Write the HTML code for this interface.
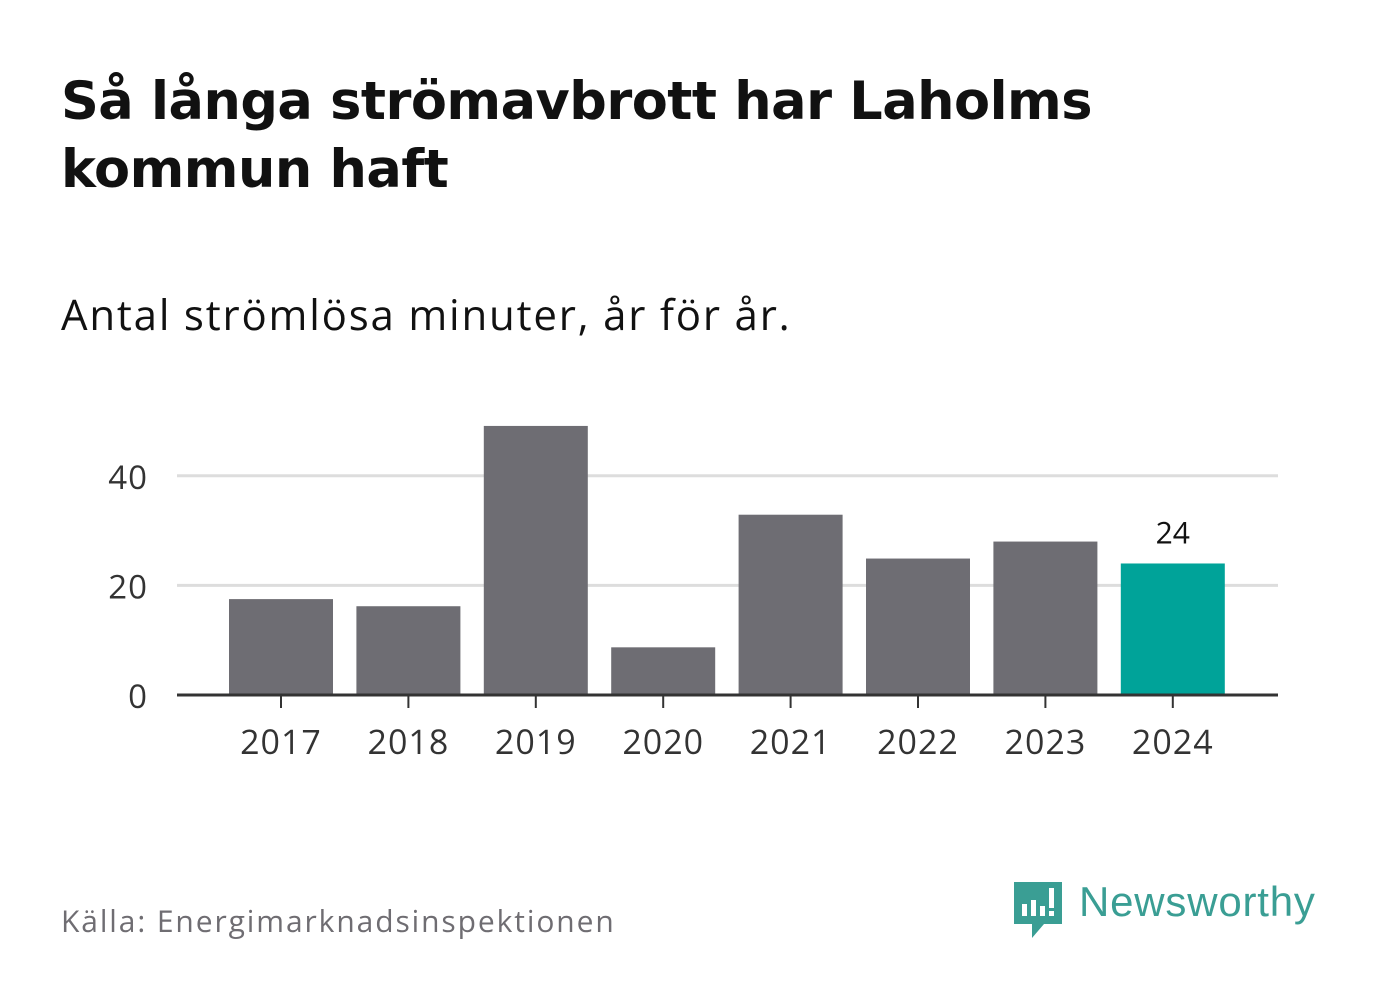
<!DOCTYPE html>
<html><head><meta charset="utf-8"><style>
body{margin:0;width:1382px;height:999px;background:#fff;font-family:"Open Sans","DejaVu Sans","Liberation Sans",sans-serif;position:relative;overflow:hidden}
.t{position:absolute;left:61px;top:68px;font-size:52.5px;font-weight:bold;line-height:68px;color:#111;font-family:"DejaVu Sans","Liberation Sans",sans-serif;letter-spacing:-0.5px}
.s{position:absolute;left:61px;top:286px;font-size:42px;color:#111;letter-spacing:1.8px}
.src{position:absolute;left:61px;top:900px;font-size:30px;color:#6f6d72;letter-spacing:1.9px}
</style></head><body>
<div class="t">Så långa strömavbrott har Laholms<br>kommun haft</div>
<div class="s">Antal strömlösa minuter, år för år.</div>
<svg id="c" width="1382" height="999" style="position:absolute;left:0;top:0"></svg>
<div class="src">Källa: Energimarknadsinspektionen</div>
<div style="position:absolute;left:1012px;top:880px">
<svg width="52" height="60"><path d="M2 2h48v42H32l-12 14v-14H2z" fill="#3a9e94"/><rect x="10" y="24" width="5" height="12" fill="#fff"/><rect x="19" y="20" width="5" height="16" fill="#fff"/><rect x="28" y="26" width="5" height="10" fill="#fff"/><rect x="37" y="8" width="5" height="20" fill="#fff"/><rect x="37" y="31" width="5" height="5" fill="#fff"/></svg>
<span style="position:absolute;left:67px;top:-2px;font-size:42px;color:#3a9e94;font-family:'Liberation Sans',sans-serif;white-space:nowrap;letter-spacing:0.8px">Newsworthy</span></div>
<script>
const categories=["2017","2018","2019","2020","2021","2022","2023","2024"];
const values=[17.5,16.2,49.1,8.7,32.9,24.9,28,24];
const yTicks=[0,20,40];
const svg=document.getElementById('c');const NS="http://www.w3.org/2000/svg";
const y=v=>695-v*5.48;const x=i=>281+i*127.4;
function mk(t,a){const e=document.createElementNS(NS,t);for(const k in a)e.setAttribute(k,a[k]);svg.appendChild(e);return e;}
yTicks.forEach(v=>{
 if(v>0){const l=mk('line',{x1:177,x2:1278,y1:y(v),y2:y(v),stroke:'#ddd','stroke-width':3});
 
 }
 const t=mk('text',{x:148,y:y(v)+13,'text-anchor':'end','font-size':33,fill:'#333','letter-spacing':1});t.textContent=v;
 
 
});
categories.forEach((c,i)=>{
 const r=mk('rect',{x:x(i)-52,y:y(values[i]),width:104,height:695-y(values[i]),fill:i==7?'#00a399':'#6e6d73'});
 
 
 const tk=mk('line',{x1:x(i),x2:x(i),y1:695,y2:708,stroke:'#333','stroke-width':2});
 
 
 const t=mk('text',{x:x(i),y:754,'text-anchor':'middle','font-size':34,fill:'#333','letter-spacing':1});t.textContent=c;
 
 
 if(i==7){const v=mk('text',{x:x(i),y:y(values[i])-20,'text-anchor':'middle','font-size':30,fill:'#111'});v.textContent=values[i];
 
 }
});
const ax=mk('line',{x1:177,x2:1278,y1:695,y2:695,stroke:'#333','stroke-width':3});


</script>
</body></html>
